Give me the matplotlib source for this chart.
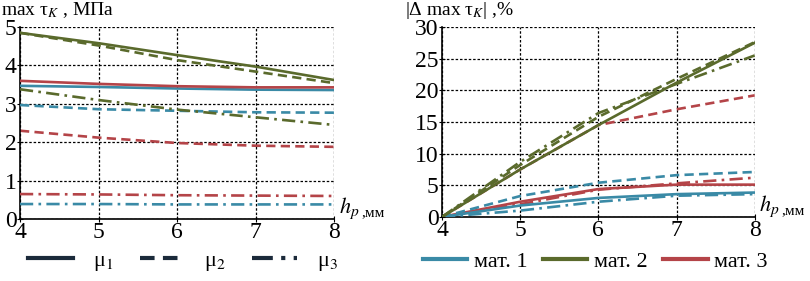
import matplotlib
matplotlib.use("Agg")
import matplotlib.pyplot as plt
from matplotlib.lines import Line2D

plt.rcParams['font.family'] = ['Liberation Serif', 'DejaVu Serif']
plt.rcParams['mathtext.fontset'] = 'stix'

hp = [4, 5, 6, 7, 8]

# left chart: max tau_K, MPa
tau_m1 = {'mu1': [3.47, 3.44, 3.40, 3.37, 3.36],
          'mu2': [2.97, 2.86, 2.82, 2.78, 2.77],
          'mu3': [0.39, 0.39, 0.38, 0.38, 0.38]}
tau_m2 = {'mu1': [4.85, 4.58, 4.27, 3.97, 3.62],
          'mu2': [4.85, 4.52, 4.14, 3.84, 3.54],
          'mu3': [3.38, 3.10, 2.85, 2.65, 2.45]}
tau_m3 = {'mu1': [3.60, 3.52, 3.46, 3.43, 3.43],
          'mu2': [2.30, 2.12, 1.98, 1.91, 1.88],
          'mu3': [0.65, 0.64, 0.62, 0.61, 0.60]}

# right chart: |delta max tau_K|, %
dlt_m1 = {'mu1': [0, 1.8, 3.0, 3.6, 3.85],
          'mu2': [0, 3.3, 5.4, 6.6, 7.1],
          'mu3': [0, 1.0, 2.4, 3.35, 3.6]}
dlt_m2 = {'mu1': [0, 7.5, 14.5, 21.2, 27.5],
          'mu2': [0, 8.2, 15.8, 21.8, 27.6],
          'mu3': [0, 8.7, 16.4, 21.0, 25.5]}
dlt_m3 = {'mu1': [0, 2.4, 4.4, 5.1, 5.1],
          'mu2': [0, 7.5, 14.5, 17.0, 19.2],
          'mu3': [0, 2.0, 4.3, 5.3, 6.2]}

mat_labels = ['мат. 1', 'мат. 2', 'мат. 3']
mu_labels = ['μ$_1$', 'μ$_2$', 'μ$_3$']

c_cyan = '#3a8aa6'
c_olive = '#5a6a2c'
c_red = '#b44448'
c_dark = '#1b2a3a'

styles = {'mu1': dict(linestyle='-'),
          'mu2': dict(linestyle=(0, (3.5, 2))),
          'mu3': dict(linestyle=(0, (5, 2, 1, 2)))}


def setup(ax, ymax, ystep):
    ax.set_xlim(4, 8)
    ax.set_ylim(0, ymax)
    ax.set_xticks(hp)
    ax.set_yticks(range(0, ymax + 1, ystep))
    ax.grid(True, color='black', linestyle=(0, (2, 1.5)), linewidth=0.9)
    ax.spines['top'].set_visible(False)
    ax.spines['right'].set_visible(False)
    ax.spines['left'].set_linewidth(1.2)
    ax.spines['bottom'].set_linewidth(1.2)
    ax.tick_params(direction='inout', length=5, labelsize=17, pad=0)


def draw(ax, data, colors):
    for d, c in zip(data, colors):
        for key in ['mu3', 'mu2', 'mu1']:
            z = 2 if (c == c_red and key == 'mu2') else 3
            ax.plot(hp, d[key], color=c, linewidth=1.9, zorder=z, **styles[key])


fig = plt.figure(figsize=(8.1, 2.81), dpi=100)
ax1 = fig.add_axes([0.0247, 0.2206, 0.388, 0.683])
ax2 = fig.add_axes([0.5457, 0.228, 0.386, 0.676])

setup(ax1, 5, 1)
draw(ax1, [tau_m1, tau_m2, tau_m3], [c_cyan, c_olive, c_red])
setup(ax2, 30, 5)
draw(ax2, [dlt_m3, dlt_m1, dlt_m2], [c_red, c_cyan, c_olive])

fig.text(0.001, 1.0, r'max τ$_K$ , МПа', fontsize=14, ha='left', va='top')
fig.text(0.5, 1.0, r'|Δ max τ$_K$| ,%', fontsize=14, ha='left', va='top')

for ax in (ax1, ax2):
    ax.text(1.015, -0.01, r'$h_p$', transform=ax.transAxes, fontsize=16,
            ha='left', va='bottom')
    ax.text(1.087, 0.0, ',мм', transform=ax.transAxes, fontsize=11,
            ha='left', va='bottom')

h1 = [Line2D([], [], color=c_dark, linewidth=3, **styles[k]) for k in ['mu1', 'mu2', 'mu3']]
fig.legend(h1, mu_labels, loc='center', bbox_to_anchor=(0.226, 0.068),
           ncol=3, frameon=False, fontsize=16, handlelength=2.0,
           columnspacing=1.2, handletextpad=0.9)

h2 = [Line2D([], [], color=c, linewidth=3) for c in [c_cyan, c_olive, c_red]]
fig.legend(h2, mat_labels, loc='center', bbox_to_anchor=(0.735, 0.068),
           ncol=3, frameon=False, fontsize=16, handlelength=2.0,
           columnspacing=0.7, handletextpad=0.3)

fig.savefig('out.png', dpi=100)
